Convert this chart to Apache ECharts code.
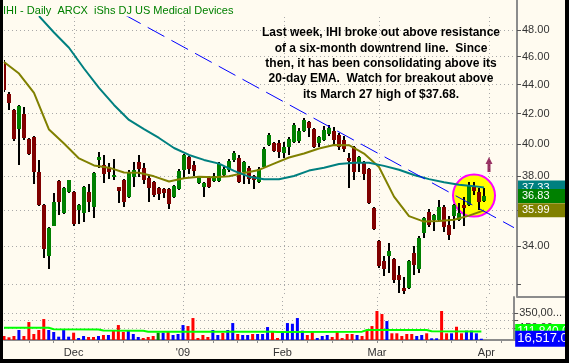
<!DOCTYPE html>
<html><head><meta charset="utf-8">
<script src="https://cdn.jsdelivr.net/npm/echarts@6/dist/echarts.min.js"></script>
<style>html,body{margin:0;padding:0;background:#000;overflow:hidden}#c{position:absolute;left:0;top:0;width:565px;height:359px}</style>
</head><body><div id="c"></div>
<script>
// ---------------- data ----------------
const dates = [
'2008-11-10','2008-11-11','2008-11-12','2008-11-13','2008-11-14','2008-11-17','2008-11-18','2008-11-19','2008-11-20','2008-11-21','2008-11-24','2008-11-25','2008-11-26','2008-11-28',
'2008-12-01','2008-12-02','2008-12-03','2008-12-04','2008-12-05','2008-12-08','2008-12-09','2008-12-10','2008-12-11','2008-12-12','2008-12-15','2008-12-16','2008-12-17','2008-12-18','2008-12-19','2008-12-22','2008-12-23','2008-12-24','2008-12-26','2008-12-29','2008-12-30','2008-12-31',
'2009-01-02','2009-01-05','2009-01-06','2009-01-07','2009-01-08','2009-01-09','2009-01-12','2009-01-13','2009-01-14','2009-01-15','2009-01-16','2009-01-20','2009-01-21','2009-01-22','2009-01-23','2009-01-26','2009-01-27','2009-01-28','2009-01-29','2009-01-30',
'2009-02-02','2009-02-03','2009-02-04','2009-02-05','2009-02-06','2009-02-09','2009-02-10','2009-02-11','2009-02-12','2009-02-13','2009-02-17','2009-02-18','2009-02-19','2009-02-20','2009-02-23','2009-02-24','2009-02-25','2009-02-26','2009-02-27',
'2009-03-02','2009-03-03','2009-03-04','2009-03-05','2009-03-06','2009-03-09','2009-03-10','2009-03-11','2009-03-12','2009-03-13','2009-03-16','2009-03-17','2009-03-18','2009-03-19','2009-03-20','2009-03-23','2009-03-24','2009-03-25','2009-03-26','2009-03-27','2009-03-30','2009-03-31',
'2009-04-01','2009-04-02','2009-04-03','2009-04-06','2009-04-07','2009-04-08','2009-04-09'];

const open = [45.61,43.34,42.25,40.98,41.98,40.33,40.46,38.27,36.31,33.47,35.11,37.72,35.85,37.07,
37.07,36.02,35.85,37.07,36.19,39.01,38.70,38.51,37.97,37.37,37.78,36.78,37.97,38.89,38.51,37.91,37.66,37.31,37.25,37.25,36.78,37.25,
38.39,39.19,38.70,37.61,37.37,37.91,37.72,37.72,38.09,38.39,39.01,39.13,38.27,38.51,38.03,37.66,38.58,39.96,40.08,40.08,
39.45,39.83,40.14,40.21,40.86,41.45,40.98,40.08,40.27,40.65,40.86,40.59,40.27,39.13,39.83,38.83,38.89,38.45,36.13,
34.28,33.21,33.47,33.31,32.47,31.80,31.80,33.63,32.79,34.73,35.91,35.45,35.45,36.19,35.17,35.68,35.45,36.31,36.31,37.37,37.07,36.54];
const high = [45.76,43.48,42.32,42.59,42.45,40.40,40.52,39.01,36.37,35.06,37.01,37.78,37.37,37.80,
37.13,36.37,37.43,37.55,38.27,39.51,39.32,38.83,39.07,37.37,37.84,38.39,38.89,39.32,38.83,38.03,37.72,37.37,37.31,37.31,37.49,38.45,
39.38,39.26,38.95,37.97,37.66,38.03,38.21,38.89,38.58,39.07,39.58,39.32,38.95,38.64,38.09,38.58,39.83,40.72,40.14,40.27,
40.14,40.46,41.38,41.05,41.71,41.51,41.05,40.52,41.18,41.25,41.11,40.72,40.52,39.45,39.89,39.26,38.95,38.51,36.19,
34.34,33.47,34.17,33.37,32.94,32.36,33.26,34.01,34.56,35.62,36.08,35.79,36.60,36.31,35.68,36.37,36.43,36.78,37.66,37.68,37.31,37.31];
const low = [43.48,42.25,40.21,38.70,40.27,39.32,37.55,36.25,33.37,32.79,35.11,35.74,35.79,37.00,
35.11,35.23,35.34,35.91,35.57,38.51,37.61,37.84,37.78,36.43,36.19,36.72,37.37,37.97,37.55,36.48,36.78,36.60,36.72,36.08,36.72,37.19,
37.91,38.15,38.03,37.55,36.78,37.31,37.66,37.66,38.03,38.27,38.89,37.61,37.55,37.55,37.25,37.61,38.51,39.89,39.51,39.13,
39.13,39.32,40.08,40.08,40.79,40.46,39.76,39.83,40.21,40.52,39.96,39.64,39.51,37.31,37.78,38.27,37.78,36.37,34.89,
32.83,32.41,32.57,32.05,31.55,31.50,31.75,32.47,32.57,34.45,35.06,34.84,35.40,34.78,34.34,34.95,35.40,35.11,36.25,36.90,36.02,36.48];
const close = [43.62,42.72,40.33,42.52,40.40,39.39,38.27,36.31,33.85,35.00,36.48,36.48,37.31,37.78,
35.23,36.31,37.37,36.48,38.21,39.19,38.15,38.27,38.09,37.13,36.48,38.21,38.39,38.45,37.78,37.31,36.90,36.96,37.01,36.37,37.43,38.33,
39.32,38.45,38.33,37.91,37.61,37.37,38.03,38.76,38.45,38.95,39.45,37.66,38.89,37.84,37.78,38.45,39.70,40.59,39.58,39.51,
39.83,40.33,41.25,40.86,41.58,41.05,39.83,40.46,40.92,41.05,40.27,39.83,39.70,38.95,38.27,39.19,38.15,36.43,34.95,
32.94,32.79,33.74,32.21,32.21,31.65,33.21,32.99,34.45,35.57,35.17,35.74,36.19,35.06,34.62,36.31,35.85,36.13,37.43,37.13,36.48,36.83];

const volume = [52000,35000,52000,130000,52000,233000,78000,130000,272000,130000,104000,43000,143000,43000,
95000,26000,52000,39000,39000,52000,65000,65000,130000,194000,104000,130000,78000,39000,26000,39000,52000,95000,95000,104000,65000,78000,
194000,181000,285000,26000,65000,39000,130000,65000,91000,130000,220000,78000,65000,65000,78000,78000,78000,168000,117000,26000,
95000,220000,211000,285000,121000,65000,104000,26000,52000,65000,39000,104000,26000,78000,78000,65000,52000,117000,181000,
376000,337000,246000,87000,87000,52000,78000,78000,52000,65000,87000,22000,22000,376000,87000,87000,172000,87000,121000,121000,87000,16517];
// u = up day (blue), d = down day (red), n = unchanged (green)
const volDir = ['d','d','d','u','d','d','d','d','d','u','u','u','u','u',
'd','u','u','d','d','u','d','u','d','d','d','u','u','u','d','d','d','n','u','d','u','u',
'u','d','d','d','d','d','u','u','d','u','u','d','u','u','d','u','u','u','d','d',
'u','u','u','u','u','d','d','u','u','u','d','d','d','d','d','u','d','d','d',
'd','d','u','d','d','d','d','d','u','u','d','u','u','d','d','u','d','d','u','u','u','u'];

// 50-day moving average (teal), read at sampled bars
const ma50Idx = [7,10,13,16,19,22,25,28,31,34,37,40,43,46,49,52,55,58,61,64,67,70,73,76,79,82,85,88,91,94,96];
const ma50Val = [49.08,47.81,46.66,45.14,43.76,42.59,41.58,40.98,40.40,39.76,39.32,39.01,38.78,38.33,37.98,37.83,37.82,38.02,38.35,38.52,38.75,38.84,38.83,38.64,38.40,38.08,37.83,37.64,37.49,37.41,37.33];
// 20-day EMA (olive)
const ema20Idx = [0,3,6,9,12,15,18,21,24,27,30,33,36,39,42,45,48,51,54,57,60,63,66,69,72,75,78,81,84,87,90,93,96];
const ema20Val = [45.61,44.78,43.41,40.95,40.05,39.10,38.67,38.53,38.23,38.22,38.00,37.69,37.89,37.98,37.95,38.00,38.20,38.39,38.78,39.16,39.41,39.73,39.95,39.94,39.41,38.57,36.79,35.66,35.35,35.39,35.45,35.69,35.99];
// volume average (green)
const volAvgIdx = [0,9,10,19,20,28,29,54,55,72,73,85,86,96];
const volAvgVal = [160000,158000,140000,137000,122000,120000,108000,107000,104000,108000,130000,130000,113000,111840];
// downtrend line end points
const trendIdx = [24,102];
const trendVal = [49.21,35.01];

const priceTicks = [32,34,36,38,40,42,44,46,48];
const priceLabels = [34,36,38,40,42,44,46,48];
const volTicks = [150000,250000,350000];
const volLabels = [150000,350000];

const titleText = 'IHI - Daily  ARCX  iShs DJ US Medical Devices';
const noteLines = ['Last week, IHI broke out above resistance','of a six-month downtrend line.  Since','then, it has been consolidating above its','20-day EMA.  Watch for breakout above','its March 27 high of $37.68.'];

// annotation anchors (category index, price)
const circleAt = [94.4, 36.85];
const arrowAt = [97, 38.73];

// ---------------- chart ----------------
const L = Math.log;
const monthNames = ['Jan','Feb','Mar','Apr','May','Jun','Jul','Aug','Sep','Oct','Nov','Dec'];
const isMonthStart = dates.map((d,i)=> i>0 && d.slice(5,7)!==dates[i-1].slice(5,7));
const isWeekStart = dates.map((d,i)=> i>0 && new Date(d+'T00:00:00Z').getUTCDay() < new Date(dates[i-1]+'T00:00:00Z').getUTCDay());
const monthLabel = d => { const m = +d.slice(5,7); return m===1 ? "'"+d.slice(2,4) : monthNames[m-1]; };
const fmtNum = (v, dec) => v.toLocaleString('en-US',{minimumFractionDigits:dec, maximumFractionDigits:dec});

const GRAY = '#8c8c8c';
const DOT = {color:'#a9a9a9', width:1, type:[1,3]};
const FONT = 'Liberation Sans, Arial, sans-serif';

const candleData = open.map((o,i)=>[i, L(o), L(high[i]), L(low[i]), L(close[i])]);

function badge(value, fmt, bg, z, fs, padL){
  fs = fs || 11;
  padL = (padL === undefined) ? 4 : padL;
  return {
    symbol:'none', silent:true, z:z, animation:false, precision:10,
    lineStyle:{width:0, color:'transparent'},
    label:{show:true, position:'end', distance:-1, formatter:fmt, color:'#ffffff', backgroundColor:bg,
      fontFamily:FONT, fontSize:fs, lineHeight:fs+1, padding:[1,20,1,padL]},
    data:[{yAxis:value}]
  };
}

const option = {
  animation:false,
  backgroundColor:'#fffbf0',
  grid:[
    {left:4, top:17, width:515, height:280},
    {left:4, top:297, width:515, height:43}
  ],
  xAxis:[
    {type:'category', gridIndex:0, data:dates, boundaryGap:false,
     axisLine:{show:false}, axisTick:{show:false}, axisLabel:{show:false},
     splitLine:{show:true, interval:(i)=>isMonthStart[i], lineStyle:DOT}},
    {type:'category', gridIndex:1, data:dates, boundaryGap:false,
     axisLine:{show:true, lineStyle:{color:GRAY, width:2}},
     axisTick:{show:true, interval:(i)=>isWeekStart[i], length:3, lineStyle:{color:GRAY}},
     axisLabel:{show:true, interval:(i)=>isMonthStart[i], formatter:(v)=>monthLabel(v), color:'#333', fontFamily:FONT, fontSize:11, margin:7},
     splitLine:{show:true, interval:(i)=>isMonthStart[i], lineStyle:DOT}}
  ],
  yAxis:[
    {type:'value', gridIndex:0, position:'right', offset:-2, min:L(31.34), max:L(49.01),
     axisLine:{show:true, lineStyle:{color:GRAY, width:2}},
     axisTick:{show:true, length:4, customValues:priceTicks.map(L), lineStyle:{color:'#555'}},
     axisLabel:{show:true, customValues:priceLabels.map(L), formatter:(v)=>Math.exp(v).toFixed(2), color:'#333', fontFamily:FONT, fontSize:11, margin:5},
     splitLine:{show:true, lineStyle:DOT}},
    {type:'value', gridIndex:1, position:'right', offset:-2, min:0, max:558000,
     axisLine:{show:true, lineStyle:{color:GRAY, width:2}},
     axisTick:{show:true, length:4, customValues:volTicks, lineStyle:{color:'#555'}},
     axisLabel:{show:true, customValues:volLabels, formatter:(v)=>fmtNum(v,2), color:'#333', fontFamily:FONT, fontSize:11, margin:5,
       width:47, overflow:'truncate', ellipsis:'...'},
     splitLine:{show:true, lineStyle:DOT}}
  ],
  series:[
    {type:'scatter', xAxisIndex:0, yAxisIndex:0, z:1, silent:true,
     data:[[circleAt[0], L(circleAt[1])]], symbol:'circle', symbolSize:42,
     itemStyle:{color:'#ffff00', borderColor:'#ff00ff', borderWidth:2, opacity:1}},
    {type:'custom', xAxisIndex:0, yAxisIndex:0, z:2, clip:true,
     data:candleData, encode:{x:0, y:[1,2,3,4]},
     renderItem:function(params, api){
       const x = api.value(0);
       const pO = api.coord([x, api.value(1)]);
       const pH = api.coord([x, api.value(2)]);
       const pL = api.coord([x, api.value(3)]);
       const pC = api.coord([x, api.value(4)]);
       const up = api.value(4) >= api.value(1);
       const cx = Math.round(pO[0]);
       const top = Math.round(Math.min(pO[1], pC[1])), bot = Math.round(Math.max(pO[1], pC[1]));
       return {type:'group', children:[
         {type:'rect', shape:{x:cx-1, y:Math.round(pH[1]), width:2, height:Math.max(1,Math.round(pL[1])-Math.round(pH[1]))}, style:{fill:'#000000'}},
         {type:'rect', shape:{x:cx-2, y:top, width:4, height:Math.max(2,bot-top)}, style:{fill: up?'#008000':'#800000'}}
       ]};
     }},
    {type:'line', xAxisIndex:0, yAxisIndex:0, z:3, data:close.map((c,i)=>[i,L(c)]), symbol:'none',
     lineStyle:{width:0, opacity:0}, silent:true,
     markLine:badge(L(close[close.length-1]), p=>Math.exp(p.value).toFixed(2), '#008000', 6)},
    {type:'line', xAxisIndex:0, yAxisIndex:0, z:4, data:ema20Idx.map((k,i)=>[k,L(ema20Val[i])]), symbol:'none',
     lineStyle:{color:'#808000', width:2}, silent:true,
     markLine:badge(L(ema20Val[ema20Val.length-1]), p=>Math.exp(p.value).toFixed(2), '#808000', 7)},
    {type:'line', xAxisIndex:0, yAxisIndex:0, z:4, data:ma50Idx.map((k,i)=>[k,L(ma50Val[i])]), symbol:'none',
     lineStyle:{color:'#008080', width:2}, silent:true,
     markLine:badge(L(ma50Val[ma50Val.length-1]), p=>Math.exp(p.value).toFixed(2), '#008080', 5)},
    {type:'line', xAxisIndex:0, yAxisIndex:0, z:5, data:trendIdx.map((k,i)=>[k,L(trendVal[i])]), symbol:'none',
     lineStyle:{color:'#0000ff', width:1, type:[19,8]}, silent:true},
    {type:'scatter', xAxisIndex:0, yAxisIndex:0, z:5, silent:true,
     data:[[arrowAt[0], L(arrowAt[1])]],
     symbol:'path://M3.5,0 L7,7 L5,7 L5,15 L2,15 L2,7 L0,7 Z', symbolSize:[7,15],
     itemStyle:{color:'#800040'}},
    {type:'bar', xAxisIndex:1, yAxisIndex:1, z:2, barWidth:3, silent:true,
     data:volume.map((v,i)=>({value:v, itemStyle:{color: volDir[i]==='u'?'#0000ff':(volDir[i]==='d'?'#ff0000':'#008000')}})),
     markLine:badge(volume[volume.length-1], p=>fmtNum(p.value,2), '#0000ff', 8, 13, 2)},
    {type:'line', xAxisIndex:1, yAxisIndex:1, z:3, data:volAvgIdx.map((k,i)=>[k,volAvgVal[i]]), symbol:'none',
     lineStyle:{color:'#00ff00', width:2}, silent:true,
     markLine:badge(volAvgVal[volAvgVal.length-1], p=>fmtNum(p.value,2), '#00ff00', 7, 12, 2)}
  ],
  graphic:[
    {type:'text', left:3, top:5, z:50, style:{text:titleText, fill:'#008000', font:'11px '+FONT}},
    {type:'text', x:381, y:25.5, z:50, style:{text:noteLines.join('\n'), fill:'#000000', font:'bold 12px '+FONT, align:'center', lineHeight:15.3}},
    {type:'line', z:50, shape:{x1:517, y1:0, x2:517, y2:17}, style:{stroke:GRAY, lineWidth:2}},
    {type:'line', z:50, shape:{x1:517, y1:297, x2:565, y2:297}, style:{stroke:GRAY, lineWidth:2}},
    {type:'rect', z:100, shape:{x:0, y:0, width:3, height:359}, style:{fill:'#000000'}}
  ]
};
const chart = echarts.init(document.getElementById('c'));
chart.setOption(option);
</script></body></html>
